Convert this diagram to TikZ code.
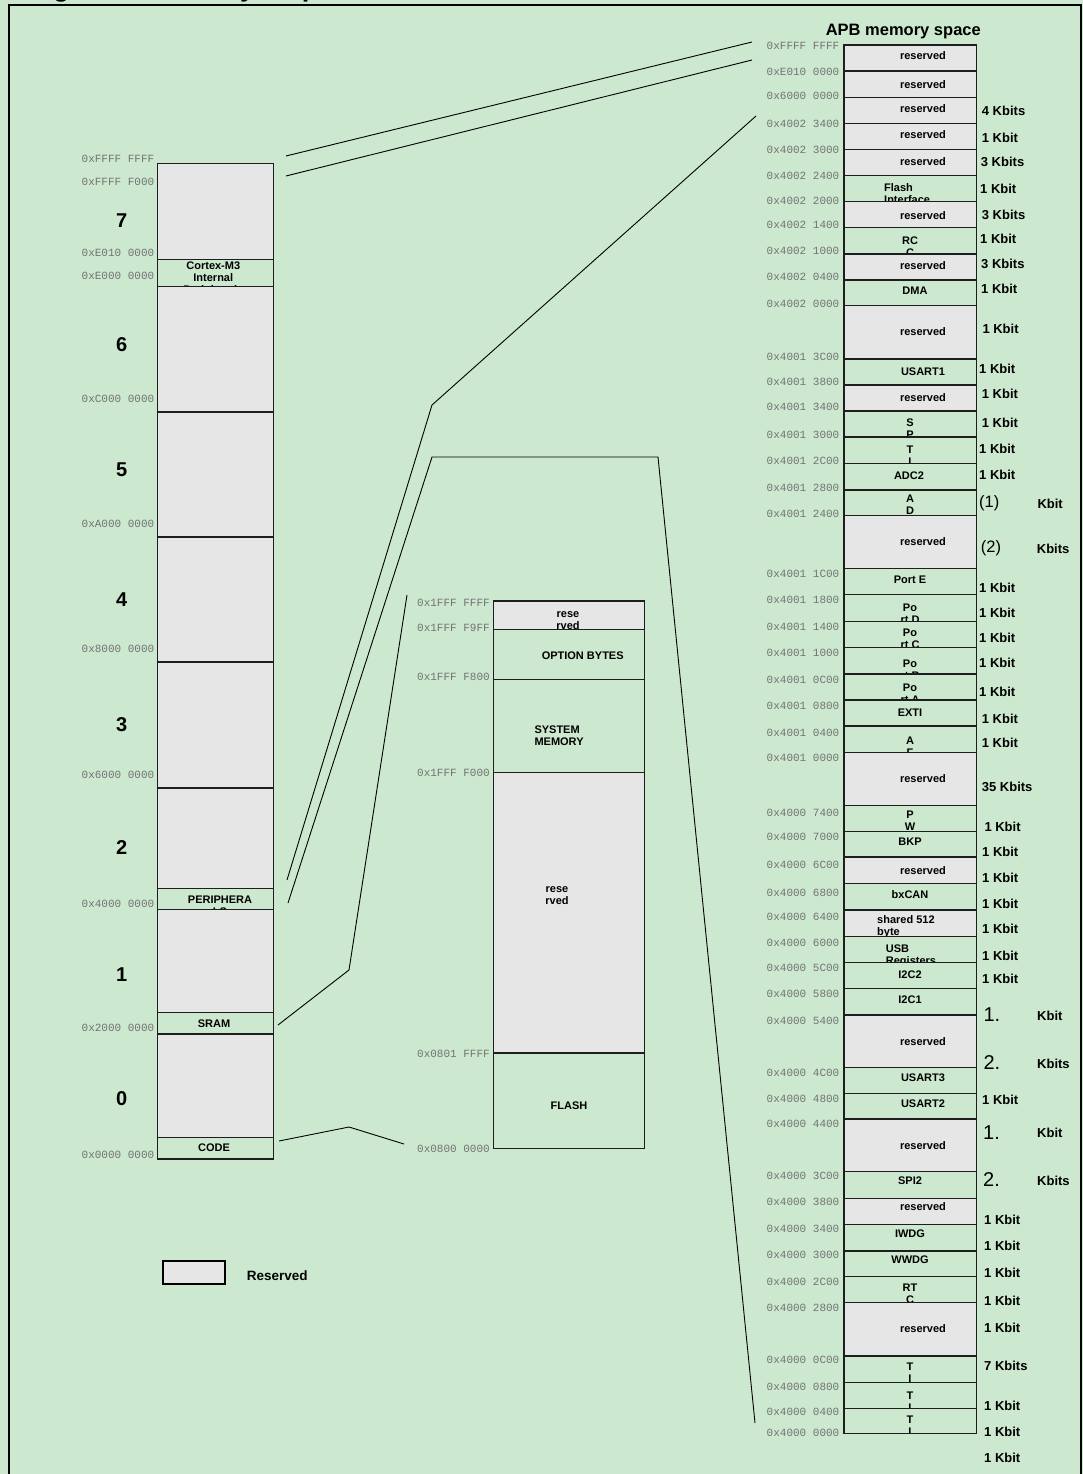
\documentclass[tikz,border=0pt]{standalone}
\usepackage{fontspec}
\setmainfont{Liberation Sans}
\newfontfamily\monof{Liberation Mono}
\definecolor{bg}{RGB}{204,232,207}
\definecolor{resv}{RGB}{230,230,230}
\definecolor{addrc}{RGB}{115,115,115}
\definecolor{linec}{RGB}{30,30,30}
\newcommand\cfnt{\bfseries\fontsize{11}{12}\selectfont}
\newcommand\vfnt{\bfseries\fontsize{11}{12.5}\selectfont}
\newcommand\afnt{\monof\fontsize{11}{12}\selectfont}
\newcommand\kfnt{\bfseries\fontsize{13}{15}\selectfont}
\tikzset{
  cellbox/.style={draw=linec, line width=1.1pt},
  celltext/.style={font=\cfnt, inner sep=0pt, anchor=north, align=center, yshift=4pt},
  celltextL/.style={font=\cfnt, inner sep=0pt, anchor=north west, align=left, yshift=4pt},
  addr/.style={font=\afnt, text=addrc, inner sep=0pt, anchor=east},
  kb/.style={font=\kfnt, inner sep=0pt, anchor=west},
  kbp/.style={font=\fontsize{16.5}{18}\selectfont, inner sep=0pt, anchor=west},
  kbn/.style={font=\fontsize{20}{22}\selectfont, inner sep=0pt, anchor=west},
  bignum/.style={font=\bfseries\fontsize{20}{22}\selectfont, inner sep=0pt},
  conn/.style={draw=black, line width=0.9pt},
}
% name, x1, y1, x2, y2, fill, tx, ty, text
\newcommand\mcell[9]{%
  \fill[#6] (#2,#3) rectangle (#4,#5);
  \begin{scope}
    \clip (#2,#3) rectangle (#4,#5);
    \node[celltext] (#1) at (#7,#8) {#9};
  \end{scope}
  \draw[cellbox] (#2,#3) rectangle (#4,#5);
}
\newcommand\mcellL[9]{%
  \fill[#6] (#2,#3) rectangle (#4,#5);
  \begin{scope}
    \clip (#2,#3) rectangle (#4,#5);
    \node[celltextL] (#1) at (#7,#8) {#9};
  \end{scope}
  \draw[cellbox] (#2,#3) rectangle (#4,#5);
}
\begin{document}
\begin{tikzpicture}[x=1pt,y=-1pt]
\useasboundingbox (0,0) rectangle (1083,1474);
\fill[bg] (0,0) rectangle (1083,1474);
% title (cut off at the top)
\node[font=\bfseries\fontsize{27}{30}\selectfont, inner sep=0pt, anchor=base west] (title) at (29,-3.4) {Figure 2. Memory map};
% frame
\draw[line width=1.5pt] (9,1480) -- (9,5) -- (1081,5) -- (1081,1480);

% ---------------- left column ----------------
\def\xa{157.3}\def\xb{273.3}
\mcell{l7}{\xa}{163.3}{\xb}{259.3}{resv}{215}{200}{}
\mcell{lcm}{\xa}{259.3}{\xb}{286.7}{bg}{213.3}{265.7}{\fontsize{11}{10.7}\selectfont Cortex-M3\\Internal\\Peripherals}
\mcell{l6}{\xa}{286.7}{\xb}{412}{resv}{215}{340}{}
\mcell{l5}{\xa}{412}{\xb}{537}{resv}{215}{470}{}
\mcell{l4}{\xa}{537}{\xb}{662}{resv}{215}{600}{}
\mcell{l3}{\xa}{662}{\xb}{788}{resv}{215}{720}{}
\mcell{l2}{\xa}{788}{\xb}{888.3}{resv}{215}{840}{}
\mcell{lper}{\xa}{888.3}{\xb}{909.7}{bg}{220}{899.3}{PERIPHERA\\LS}
\mcell{l1}{\xa}{909.7}{\xb}{1012.7}{resv}{215}{960}{}
\mcell{lsram}{\xa}{1012.7}{\xb}{1034}{bg}{214}{1024}{SRAM}
\mcell{l0}{\xa}{1034}{\xb}{1137.3}{resv}{215}{1090}{}
\mcell{lcode}{\xa}{1137.3}{\xb}{1159}{bg}{214}{1147.7}{CODE}

\node[bignum] (n7) at (121.7,221) {7};
\node[bignum] (n6) at (121.7,345) {6};
\node[bignum] (n5) at (121.7,470) {5};
\node[bignum] (n4) at (121.7,600) {4};
\node[bignum] (n3) at (121.7,725) {3};
\node[bignum] (n2) at (121.7,848) {2};
\node[bignum] (n1) at (121.7,974.3) {1};
\node[bignum] (n0) at (121.7,1098.3) {0};

\node[addr] (la1) at (154.5,159) {0xFFFF FFFF};
\node[addr] (la2) at (154.5,181.7) {0xFFFF F000};
\node[addr] (la3) at (154.5,252.7) {0xE010 0000};
\node[addr] (la4) at (154.5,275.7) {0xE000 0000};
\node[addr] (la5) at (154.5,399) {0xC000 0000};
\node[addr] (la6) at (154.5,524) {0xA000 0000};
\node[addr] (la7) at (154.5,649) {0x8000 0000};
\node[addr] (la8) at (154.5,775) {0x6000 0000};
\node[addr] (la9) at (154.5,904.3) {0x4000 0000};
\node[addr] (la10) at (154.5,1028.3) {0x2000 0000};
\node[addr] (la11) at (154.5,1155.3) {0x0000 0000};

% legend
\draw[fill=resv, draw=black, line width=2pt] (163.3,1260.7) rectangle (225,1284.3);
\node[font=\bfseries\fontsize{13.5}{15}\selectfont, inner sep=0pt, anchor=west] (legend) at (246.7,1276) {Reserved};

% ---------------- middle column ----------------
\def\xa{493.3}\def\xb{644.3}
\mcell{m1}{\xa}{601}{\xb}{629.3}{resv}{568}{615}{rese\\rved}
\mcell{m2}{\xa}{629.3}{\xb}{679.3}{bg}{582.7}{656}{OPTION BYTES}
\mcellL{m3}{\xa}{679.3}{\xb}{772.7}{bg}{534.3}{730}{SYSTEM\\MEMORY}
\mcell{m4}{\xa}{772.7}{\xb}{1053}{resv}{557}{890}{rese\\rved}
\mcell{m5}{\xa}{1053}{\xb}{1148.3}{bg}{569}{1106}{FLASH}

\node[addr] (ma1) at (490,603.3) {0x1FFF FFFF};
\node[addr] (ma2) at (490,627.7) {0x1FFF F9FF};
\node[addr] (ma3) at (490,676.7) {0x1FFF F800};
\node[addr] (ma4) at (490,772.7) {0x1FFF F000};
\node[addr] (ma5) at (490,1054) {0x0801 FFFF};
\node[addr] (ma6) at (490,1149.3) {0x0800 0000};

% ---------------- right column ----------------
\node[font=\bfseries\fontsize{16.5}{18}\selectfont, inner sep=0pt] (apb) at (903.3,31.7) {APB memory space};
\def\xa{844}\def\xb{976.7}
\mcell{r1}{\xa}{45}{\xb}{71}{resv}{923}{55.7}{reserved}
\mcell{r2}{\xa}{71}{\xb}{97.7}{resv}{923}{84}{reserved}
\mcell{r3}{\xa}{97.7}{\xb}{123.3}{resv}{923}{108.3}{reserved}
\mcell{r4}{\xa}{123.3}{\xb}{149.3}{resv}{923}{134}{reserved}
\mcell{r5}{\xa}{149.3}{\xb}{175.3}{resv}{923}{161}{reserved}
\mcellL{r6}{\xa}{175.3}{\xb}{201.7}{bg}{884}{187.7}{Flash\\Interface}
\mcell{r7}{\xa}{201.7}{\xb}{227.3}{resv}{923}{215}{reserved}
\mcell{r8}{\xa}{227.3}{\xb}{254}{bg}{910}{240.7}{RC\\C}
\mcell{r9}{\xa}{254}{\xb}{280}{resv}{923}{265}{reserved}
\mcell{r10}{\xa}{280}{\xb}{305.3}{bg}{915}{290.7}{DMA}
\mcell{r11}{\xa}{305.3}{\xb}{359}{resv}{923}{331}{reserved}
\mcell{r12}{\xa}{359}{\xb}{385}{bg}{923}{371.7}{USART1}
\mcell{r13}{\xa}{385}{\xb}{411}{resv}{923}{397.7}{reserved}
\mcell{r14}{\xa}{411}{\xb}{437}{bg}{910}{422.7}{\vfnt S\\P}
\mcell{r15}{\xa}{437}{\xb}{463.7}{bg}{910}{450}{\vfnt T\\I}
\mcell{r16}{\xa}{463.7}{\xb}{490}{bg}{909}{475.7}{ADC2}
\mcell{r17}{\xa}{490}{\xb}{515.7}{bg}{910}{499}{\vfnt A\\D}
\mcell{r18}{\xa}{515.7}{\xb}{568.3}{resv}{923}{541.7}{reserved}
\mcell{r19}{\xa}{568.3}{\xb}{594.7}{bg}{910}{580}{Port E}
\mcell{r20}{\xa}{594.7}{\xb}{621.3}{bg}{910}{607.3}{Po\\rt D}
\mcell{r21}{\xa}{621.3}{\xb}{647.7}{bg}{910}{632.3}{Po\\rt C}
\mcell{r22}{\xa}{647.7}{\xb}{674}{bg}{910}{663.3}{Po\\rt B}
\mcell{r23}{\xa}{674}{\xb}{700}{bg}{910}{687.3}{Po\\rt A}
\mcell{r24}{\xa}{700}{\xb}{726}{bg}{910}{712.7}{EXTI}
\mcell{r25}{\xa}{726}{\xb}{752.3}{bg}{910}{741}{\vfnt A\\F}
\mcell{r26}{\xa}{752.3}{\xb}{805.7}{resv}{923}{778.3}{reserved}
\mcell{r27}{\xa}{805.7}{\xb}{831.7}{bg}{910}{815}{\vfnt P\\W}
\mcell{r28}{\xa}{831.7}{\xb}{857}{bg}{910}{841.7}{BKP}
\mcell{r29}{\xa}{857}{\xb}{883.3}{resv}{923}{870}{reserved}
\mcell{r30}{\xa}{883.3}{\xb}{910}{bg}{910}{894}{bxCAN}
\mcellL{r31}{\xa}{910}{\xb}{936.3}{resv}{877}{919}{\fontsize{11}{10}\selectfont shared 512\\byte}
\mcellL{r32}{\xa}{936.3}{\xb}{962.7}{bg}{885.7}{948.3}{USB\\Registers}
\mcell{r33}{\xa}{962.7}{\xb}{988.7}{bg}{910}{975}{I2C2}
\mcell{r34}{\xa}{988.7}{\xb}{1015}{bg}{910}{1000}{I2C1}
\mcell{r35}{\xa}{1015}{\xb}{1067.7}{resv}{923}{1041.7}{reserved}
\mcell{r36}{\xa}{1067.7}{\xb}{1093.3}{bg}{923}{1077.3}{USART3}
\mcell{r37}{\xa}{1093.3}{\xb}{1119}{bg}{923}{1103.5}{USART2}
\mcell{r38}{\xa}{1119}{\xb}{1171.7}{resv}{923}{1145.7}{reserved}
\mcell{r39}{\xa}{1171.7}{\xb}{1198.3}{bg}{910}{1181}{SPI2}
\mcell{r40}{\xa}{1198.3}{\xb}{1224.3}{resv}{923}{1206.7}{reserved}
\mcell{r41}{\xa}{1224.3}{\xb}{1251}{bg}{910}{1234}{IWDG}
\mcell{r42}{\xa}{1251}{\xb}{1276.7}{bg}{910}{1260}{WWDG}
\mcell{r43}{\xa}{1276.7}{\xb}{1302.7}{bg}{910}{1287.7}{RT\\C}
\mcell{r44}{\xa}{1302.7}{\xb}{1356}{resv}{923}{1328.7}{reserved}
\mcell{r45}{\xa}{1356}{\xb}{1382.7}{bg}{910}{1366.7}{\vfnt T\\I}
\mcell{r46}{\xa}{1382.7}{\xb}{1408.3}{bg}{910}{1395.3}{\vfnt T\\I}
\mcell{r47}{\xa}{1408.3}{\xb}{1433.3}{bg}{910}{1420}{\vfnt T\\I}

% right addresses
\def\ax{839.5}
\node[addr] (ra1) at (\ax,46) {0xFFFF FFFF};
\node[addr] (ra2) at (\ax,71.7) {0xE010 0000};
\node[addr] (ra3) at (\ax,96) {0x6000 0000};
\node[addr] (ra4) at (\ax,124.3) {0x4002 3400};
\node[addr] (ra5) at (\ax,150) {0x4002 3000};
\node[addr] (ra6) at (\ax,175.7) {0x4002 2400};
\node[addr] (ra7) at (\ax,201) {0x4002 2000};
\node[addr] (ra8) at (\ax,225) {0x4002 1400};
\node[addr] (ra9) at (\ax,250.7) {0x4002 1000};
\node[addr] (ra10) at (\ax,276.7) {0x4002 0400};
\node[addr] (ra11) at (\ax,304) {0x4002 0000};
\node[addr] (ra12) at (\ax,356.7) {0x4001 3C00};
\node[addr] (ra13) at (\ax,381.7) {0x4001 3800};
\node[addr] (ra14) at (\ax,406.7) {0x4001 3400};
\node[addr] (ra15) at (\ax,435) {0x4001 3000};
\node[addr] (ra16) at (\ax,460.7) {0x4001 2C00};
\node[addr] (ra17) at (\ax,487.7) {0x4001 2800};
\node[addr] (ra18) at (\ax,513.7) {0x4001 2400};
\node[addr] (ra19) at (\ax,574) {0x4001 1C00};
\node[addr] (ra20) at (\ax,600) {0x4001 1800};
\node[addr] (ra21) at (\ax,626.7) {0x4001 1400};
\node[addr] (ra22) at (\ax,652.7) {0x4001 1000};
\node[addr] (ra23) at (\ax,680) {0x4001 0C00};
\node[addr] (ra24) at (\ax,706) {0x4001 0800};
\node[addr] (ra25) at (\ax,732.7) {0x4001 0400};
\node[addr] (ra26) at (\ax,757.7) {0x4001 0000};
\node[addr] (ra27) at (\ax,812.7) {0x4000 7400};
\node[addr] (ra28) at (\ax,837.3) {0x4000 7000};
\node[addr] (ra29) at (\ax,865) {0x4000 6C00};
\node[addr] (ra30) at (\ax,893.3) {0x4000 6800};
\node[addr] (ra31) at (\ax,916.7) {0x4000 6400};
\node[addr] (ra32) at (\ax,942.7) {0x4000 6000};
\node[addr] (ra33) at (\ax,967.7) {0x4000 5C00};
\node[addr] (ra34) at (\ax,994) {0x4000 5800};
\node[addr] (ra35) at (\ax,1021) {0x4000 5400};
\node[addr] (ra36) at (\ax,1072.7) {0x4000 4C00};
\node[addr] (ra37) at (\ax,1098.7) {0x4000 4800};
\node[addr] (ra38) at (\ax,1124) {0x4000 4400};
\node[addr] (ra39) at (\ax,1176) {0x4000 3C00};
\node[addr] (ra40) at (\ax,1202) {0x4000 3800};
\node[addr] (ra41) at (\ax,1228.7) {0x4000 3400};
\node[addr] (ra42) at (\ax,1255) {0x4000 3000};
\node[addr] (ra43) at (\ax,1281.7) {0x4000 2C00};
\node[addr] (ra44) at (\ax,1307.7) {0x4000 2800};
\node[addr] (ra45) at (\ax,1360) {0x4000 0C00};
\node[addr] (ra46) at (\ax,1386.7) {0x4000 0800};
\node[addr] (ra47) at (\ax,1411.7) {0x4000 0400};
\node[addr] (ra48) at (\ax,1433.3) {0x4000 0000};

% sizes
\node[kb] (k1) at (981.7,111) {4 Kbits};
\node[kb] (k2) at (981.7,137.7) {1 Kbit};
\node[kb] (k3) at (980.7,162.3) {3 Kbits};
\node[kb] (k4) at (980,189.3) {1 Kbit};
\node[kb] (k5) at (981.7,215) {3 Kbits};
\node[kb] (k6) at (980,239.3) {1 Kbit};
\node[kb] (k7) at (981,264.3) {3 Kbits};
\node[kb] (k8) at (981,289.3) {1 Kbit};
\node[kb] (k9) at (982.3,329.3) {1 Kbit};
\node[kb] (k10) at (979,369.3) {1 Kbit};
\node[kb] (k11) at (981.7,394.3) {1 Kbit};
\node[kb] (k12) at (981.7,422.7) {1 Kbit};
\node[kb] (k13) at (979,448.7) {1 Kbit};
\node[kb] (k14) at (979,475) {1 Kbit};
\node[kbp] (k15a) at (979,503.7) {(1)};
\node[kb] (k15b) at (1037.3,503.7) {Kbit};
\node[kbp] (k16a) at (980.7,548.7) {(2)};
\node[kb] (k16b) at (1036.7,548.7) {Kbits};
\node[kb] (k17) at (979,588.3) {1 Kbit};
\node[kb] (k18) at (979,613.3) {1 Kbit};
\node[kb] (k19) at (979,638.3) {1 Kbit};
\node[kb] (k20) at (979,663.3) {1 Kbit};
\node[kb] (k21) at (979,692.3) {1 Kbit};
\node[kb] (k22) at (981.7,719.3) {1 Kbit};
\node[kb] (k23) at (981.7,743.3) {1 Kbit};
\node[kb] (k24) at (981.7,786.7) {35 Kbits};
\node[kb] (k25) at (984.3,826.7) {1 Kbit};
\node[kb] (k26) at (982,851.7) {1 Kbit};
\node[kb] (k27) at (982,878.3) {1 Kbit};
\node[kb] (k28) at (982,904) {1 Kbit};
\node[kb] (k29) at (982,929.3) {1 Kbit};
\node[kb] (k30) at (982,955.7) {1 Kbit};
\node[kb] (k31) at (982,979) {1 Kbit};
\node[kbn] (k32a) at (983.3,1015) {1.};
\node[kb] (k32b) at (1037,1015.7) {Kbit};
\node[kbn] (k33a) at (983.3,1062.3) {2.};
\node[kb] (k33b) at (1037,1064.3) {Kbits};
\node[kb] (k34) at (982,1100) {1 Kbit};
\node[kbn] (k35a) at (983,1132.3) {1.};
\node[kb] (k35b) at (1037,1133.3) {Kbit};
\node[kbn] (k36a) at (983,1179.3) {2.};
\node[kb] (k36b) at (1037,1180.7) {Kbits};
\node[kb] (k37) at (984,1220) {1 Kbit};
\node[kb] (k38) at (984,1245.7) {1 Kbit};
\node[kb] (k39) at (984,1273.3) {1 Kbit};
\node[kb] (k40) at (984,1300.7) {1 Kbit};
\node[kb] (k41) at (984,1327.7) {1 Kbit};
\node[kb] (k42) at (984,1365.7) {7 Kbits};
\node[kb] (k43) at (984,1406) {1 Kbit};
\node[kb] (k44) at (984,1431.7) {1 Kbit};
\node[kb] (k45) at (984,1457.7) {1 Kbit};

% ---------------- connectors ----------------
\coordinate (c1a) at (286,156);  \coordinate (c1b) at (752,42);
\coordinate (c2a) at (286,176);  \coordinate (c2b) at (752,60);
\coordinate (c3a) at (287,880);  \coordinate (c3m) at (432,405); \coordinate (c3b) at (756,116);
\coordinate (c4a) at (288,903);  \coordinate (c4m) at (432,457); \coordinate (c4n) at (658,457); \coordinate (c4b) at (755,1423);
\coordinate (c5a) at (278,1025); \coordinate (c5m) at (349,970); \coordinate (c5b) at (407,595);
\coordinate (c6a) at (279,1141); \coordinate (c6m) at (349,1127); \coordinate (c6b) at (404,1144);
\draw[conn] (c1a) -- (c1b);
\draw[conn] (c2a) -- (c2b);
\draw[conn] (c3a) -- (c3m) -- (c3b);
\draw[conn] (c4a) -- (c4m) -- (c4n) -- (c4b);
\draw[conn] (c5a) -- (c5m) -- (c5b);
\draw[conn] (c6a) -- (c6m) -- (c6b);
\end{tikzpicture}
\end{document}
